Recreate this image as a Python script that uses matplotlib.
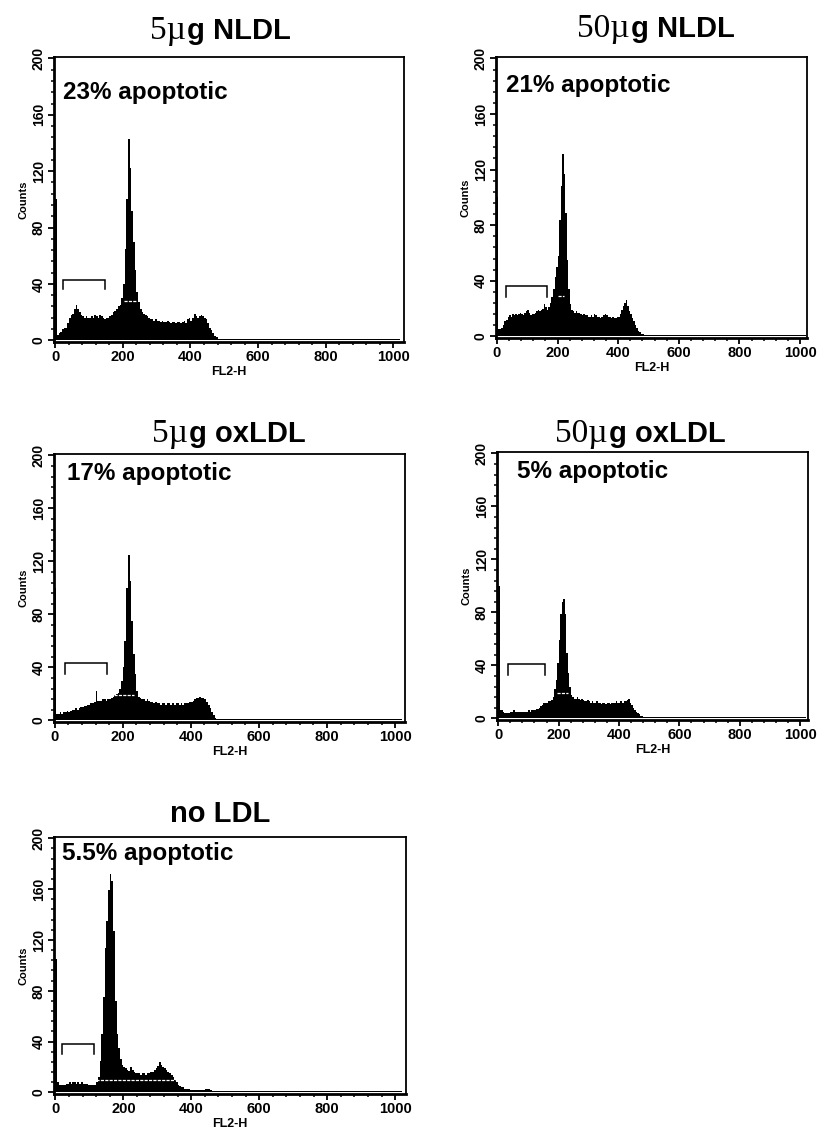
import numpy as np
import matplotlib
matplotlib.use("Agg")
import matplotlib.pyplot as plt
from matplotlib.ticker import MultipleLocator
from matplotlib import font_manager

# ---------------- data ----------------
panel_titles_num = ["5\u00b5", "50\u00b5", "5\u00b5", "50\u00b5", ""]
panel_titles_txt = ["g NLDL", "g NLDL", "g oxLDL", "g oxLDL", "no LDL"]
apoptotic_labels = ["23% apoptotic", "21% apoptotic", "17% apoptotic", "5% apoptotic", "5.5% apoptotic"]

# counts in 5-channel bins, FL2-H 0..495
counts_5ug_nldl = [100, 4, 5, 6, 8, 9, 9, 12, 16, 18, 19, 22, 25, 22, 20, 18, 17, 16, 17, 16,
                   16, 17, 16, 18, 17, 16, 18, 17, 16, 15, 16, 16, 17, 18, 20, 21, 22, 24, 25, 30,
                   40, 65, 100, 143, 122, 92, 70, 50, 34, 27, 22, 20, 19, 18, 17, 16, 15, 15, 14, 15,
                   14, 14, 13, 14, 13, 13, 14, 13, 12, 13, 13, 12, 13, 13, 12, 13, 14, 12, 15, 16,
                   14, 16, 19, 17, 16, 17, 18, 17, 16, 15, 12, 9, 7, 5, 3, 2, 1, 1, 1, 1]
counts_50ug_nldl = [100, 5, 5, 6, 8, 11, 12, 14, 15, 14, 16, 15, 16, 15, 16, 17, 16, 15, 17, 18,
                    19, 17, 15, 16, 16, 17, 18, 19, 18, 19, 20, 23, 21, 19, 21, 24, 28, 34, 43, 50,
                    58, 84, 108, 131, 117, 89, 55, 34, 23, 19, 18, 17, 18, 17, 17, 16, 15, 16, 15, 15,
                    14, 14, 15, 14, 16, 15, 14, 14, 13, 14, 15, 16, 15, 14, 14, 13, 14, 13, 13, 14,
                    14, 16, 19, 22, 24, 26, 22, 18, 16, 13, 11, 8, 6, 4, 3, 2, 1.5, 1, 1, 1]
counts_5ug_oxldl = [100, 5, 5, 6, 5, 6, 6, 7, 6, 7, 8, 8, 9, 8, 9, 10, 10, 11, 11, 12,
                    12, 13, 13, 14, 22, 15, 15, 15, 16, 16, 15, 16, 16, 17, 18, 19, 20, 21, 24, 30,
                    40, 60, 100, 125, 105, 75, 50, 35, 22, 18, 17, 16, 16, 15, 16, 15, 14, 14, 13, 14,
                    13, 13, 12, 13, 13, 12, 13, 13, 12, 13, 12, 13, 13, 12, 13, 12, 13, 13, 13, 14,
                    14, 15, 16, 17, 17, 18, 17, 17, 16, 14, 12, 9, 6, 4, 2, 1, 1, 1, 1, 1]
counts_50ug_oxldl = [100, 6, 6, 5, 4, 4, 4, 4, 5, 5, 6, 5, 5, 5, 5, 5, 5, 5, 5, 5,
                     6, 5, 6, 6, 6, 7, 7, 8, 9, 10, 12, 12, 12, 13, 13, 14, 16, 22, 29, 42,
                     59, 79, 88, 90, 79, 49, 34, 24, 18, 16, 15, 15, 16, 15, 14, 15, 14, 13, 13, 14,
                     13, 12, 13, 12, 12, 13, 12, 12, 11, 12, 12, 11, 12, 12, 11, 12, 12, 12, 13, 12,
                     12, 13, 12, 13, 13, 14, 15, 12, 10, 8, 6, 5, 4, 3, 2, 1.5, 1, 1, 1, 1]
counts_no_ldl = [105, 8, 6, 6, 6, 6, 7, 7, 8, 7, 8, 8, 7, 8, 7, 8, 7, 7, 7, 6,
                 6, 6, 6, 6, 8, 12, 25, 46, 75, 114, 135, 159, 172, 166, 127, 72, 46, 35, 26, 22,
                 20, 19, 18, 17, 20, 18, 16, 15, 15, 15, 14, 15, 15, 14, 15, 15, 16, 16, 18, 19,
                 21, 24, 22, 20, 19, 18, 16, 15, 14, 12, 10, 8, 6, 5, 4, 4, 3, 3, 3, 2,
                 2, 2, 2, 2, 2, 2, 2, 2, 3, 3, 3, 2, 1, 1, 1, 1, 1, 1, 1, 1]

# counts in 20-channel bins, FL2-H 500..1020
tail_5ug_nldl = [1, 1, 1, 1, 1, 1, 1, 1, 1, 1, 1, 1, 1, 1, 1, 1, 1, 1, 1, 1, 1, 1, 1, 1, 1, 1]
tail_50ug_nldl = [1, 1, 1, 1, 1, 1, 1, 1, 1, 1, 1, 1, 1, 1, 1, 1, 1, 1, 1, 1, 1, 1, 1, 1, 1, 1]
tail_5ug_oxldl = [1, 1, 1, 1, 1, 1, 1, 1, 1, 1, 1, 1, 1, 1, 1, 1, 1, 1, 1, 1, 1, 1, 1, 1, 1, 1]
tail_50ug_oxldl = [1, 1, 1, 1, 1, 1, 1, 1, 1, 1, 1, 1, 1, 1, 1, 1, 1, 1, 1, 1, 1, 1, 1, 1, 1, 1]
tail_no_ldl = [1, 1, 1, 1, 1, 1, 1, 1, 1, 1, 1, 1, 1, 1, 1, 1, 1, 1, 1, 1, 1, 1, 1, 1, 1, 1]

main_counts = [counts_5ug_nldl, counts_50ug_nldl, counts_5ug_oxldl, counts_50ug_oxldl, counts_no_ldl]
tail_counts = [tail_5ug_nldl, tail_50ug_nldl, tail_5ug_oxldl, tail_50ug_oxldl, tail_no_ldl]

# apoptotic marker (M1) range: x start, x end, bracket top, bracket bottom
marker_x0 = [23, 30, 29, 33, 20]
marker_x1 = [147, 164, 154, 155, 114]
marker_top = [43, 36, 43.5, 41, 38.4]
marker_bot = [36.5, 28, 35, 33, 30]

# white region markers inside histograms: x start, x end, level
gate_x0 = [203, 203, 174, 196, 120]
gate_x1 = [238, 222, 233, 232, 351]
gate_y = [28, 29, 19, 19.4, 9.7]

x_ticks = [0, 200, 400, 600, 800, 1000]
y_ticks = [0, 40, 80, 120, 160, 200]

# ---------------- layout (pixels) ----------------
W, H = 817, 1135
axes_px = [(54, 404, 57, 342), (496, 807, 57, 338), (54, 405, 454, 722),
           (497, 808, 452, 720), (54, 406, 837, 1094)]
xlims = [(-4, 1032), (-3, 1023), (-2, 1029), (-4, 1026), (-4, 1032)]
title_join = [(186, 39), (630, 37), (188, 442), (608, 442), (220, 822)]
label_pos = [(63, 99), (506, 92), (67, 480), (517, 478), (62, 860)]


def fx(x):
    return x / W


def fy(y):
    return 1 - y / H


def has_font(name):
    try:
        font_manager.findfont(name, fallback_to_default=False)
        return True
    except Exception:
        return False


sans = "Liberation Sans" if has_font("Liberation Sans") else "DejaVu Sans"
narrow = "Liberation Sans Narrow" if has_font("Liberation Sans Narrow") else sans
serif = "Liberation Serif" if has_font("Liberation Serif") else "DejaVu Serif"

fig = plt.figure(figsize=(W / 100, H / 100), dpi=100)
fig.patch.set_facecolor("white")

for i in range(5):
    L, R, T, B = axes_px[i]
    ax = fig.add_axes([fx(L), fy(B), (R - L) / W, (B - T) / H])
    edges = np.concatenate([np.arange(0, 500, 5), np.arange(500, 1021, 20)])
    vals = np.array(main_counts[i] + tail_counts[i], dtype=float)
    ax.stairs(vals, edges, fill=True, facecolor="black", edgecolor="black",
              linewidth=0, antialiased=False)

    # M1 bracket
    ax.plot([marker_x0[i], marker_x0[i], marker_x1[i], marker_x1[i]],
            [marker_bot[i], marker_top[i], marker_top[i], marker_bot[i]],
            color="black", lw=1.1, solid_joinstyle="miter")
    # white gate line
    ax.plot([gate_x0[i], gate_x1[i]], [gate_y[i], gate_y[i]], color="white",
            lw=0.9, linestyle=(0, (2.5, 1)))

    ax.set_xlim(*xlims[i])
    ax.set_ylim(-1.2, 201)
    ax.set_xticks(x_ticks)
    ax.set_yticks(y_ticks)
    ax.xaxis.set_minor_locator(MultipleLocator(40))
    ax.yaxis.set_minor_locator(MultipleLocator(8))
    ax.set_xticklabels([str(v) for v in x_ticks], fontsize=10.5, fontweight="bold", family=narrow)
    ax.set_yticklabels([str(v) for v in y_ticks], fontsize=10, fontweight="bold", family=narrow,
                       rotation=90, va="center")
    ax.tick_params(axis="both", which="major", direction="out", length=4, width=1.3, pad=2)
    ax.tick_params(axis="both", which="minor", direction="out", length=2.3, width=1.1)
    for side in ("left", "bottom"):
        ax.spines[side].set_linewidth(2.0)
    for side in ("top", "right"):
        ax.spines[side].set_linewidth(1.3)
    ax.set_xlabel("FL2-H", fontsize=9, fontweight="bold", family=narrow, labelpad=1)
    ax.set_ylabel("Counts", fontsize=8, fontweight="bold", family=narrow, labelpad=2)

    # apoptotic annotation
    lx, ly = label_pos[i]
    fig.text(fx(lx), fy(ly), apoptotic_labels[i], fontsize=17.5, fontweight="bold",
             family=sans, ha="left", va="baseline")

    # panel title (serif number + bold sans text)
    jx, jy = title_join[i]
    if panel_titles_num[i]:
        fig.text(fx(jx), fy(jy), panel_titles_num[i], fontsize=24, family=serif,
                 ha="right", va="baseline")
        fig.text(fx(jx + 1), fy(jy), panel_titles_txt[i], fontsize=21, fontweight="bold",
                 family=sans, ha="left", va="baseline")
    else:
        fig.text(fx(jx), fy(jy), panel_titles_txt[i], fontsize=21, fontweight="bold",
                 family=sans, ha="center", va="baseline")

fig.savefig("out.png", dpi=100, facecolor="white")
